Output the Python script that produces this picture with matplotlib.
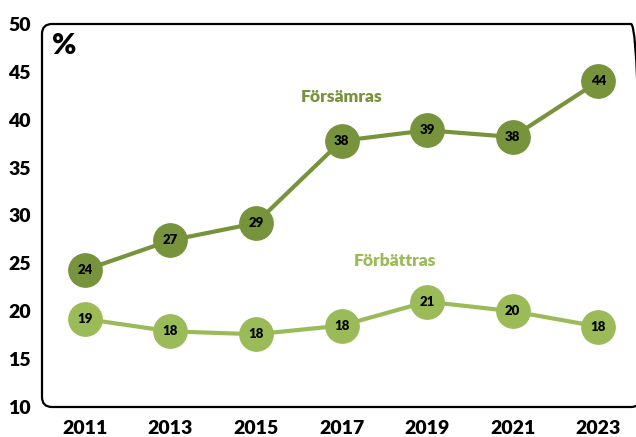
import matplotlib
matplotlib.use("Agg")
import matplotlib.pyplot as plt
from matplotlib.patches import FancyBboxPatch
from matplotlib.transforms import IdentityTransform

years = [2011, 2013, 2015, 2017, 2019, 2021, 2023]
forsamras = [24.3, 27.4, 29.2, 37.8, 38.9, 38.2, 44.0]
forsamras_labels = ["24", "27", "29", "38", "39", "38", "44"]
forbattras = [19.2, 17.9, 17.6, 18.5, 21.0, 20.0, 18.4]
forbattras_labels = ["19", "18", "18", "18", "21", "20", "18"]
yticks = [10, 15, 20, 25, 30, 35, 40, 45, 50]

dark = "#77933C"
light = "#9BBB59"
font = "Lato"
heavy = "heavy"

fig = plt.figure(figsize=(6.36, 4.37), dpi=100)
W, H = 636, 437
ax = fig.add_axes([42 / W, 30 / H, 599 / W, 383 / H])
ax.set_xlim(2010, 2024)
ax.set_ylim(10, 50)
for s in ax.spines.values():
    s.set_visible(False)
ax.set_xticks(years)
ax.set_xticklabels([str(y) for y in years], fontsize=14, fontweight=heavy, family=font)
ax.set_yticks(yticks)
ax.set_yticklabels([str(v) for v in yticks], fontsize=14, fontweight=heavy, family=font)
ax.tick_params(axis="both", length=0)
ax.tick_params(axis="y", pad=8)
ax.tick_params(axis="x", pad=9)

frame = FancyBboxPatch((42, 30), 599, 383, boxstyle="round,pad=0,rounding_size=10",
                       transform=IdentityTransform(), fill=False, edgecolor="black",
                       linewidth=1.6, clip_on=False)
fig.patches.append(frame)

for vals, labs, col in [(forsamras, forsamras_labels, dark), (forbattras, forbattras_labels, light)]:
    ax.plot(years, vals, color=col, linewidth=3, marker="o", markersize=24,
            markerfacecolor=col, markeredgecolor=col, clip_on=False, zorder=3)
    for x, y, t in zip(years, vals, labs):
        ax.text(x, y, t, ha="center", va="center", fontsize=9.5, fontweight=heavy,
                family=font, color="black", zorder=4)

ax.text(2017.0, 42.4, "Försämras", color=dark, fontsize=12.5, fontweight=heavy,
        family=font, ha="center", va="center")
ax.text(2018.25, 25.25, "Förbättras", color=light, fontsize=12.5, fontweight=heavy,
        family=font, ha="center", va="center")
fig.text(52 / W, 1 - 46 / H, "%", fontsize=21, fontweight=heavy, family=font,
         ha="left", va="center")

fig.savefig("out.png", dpi=100)
